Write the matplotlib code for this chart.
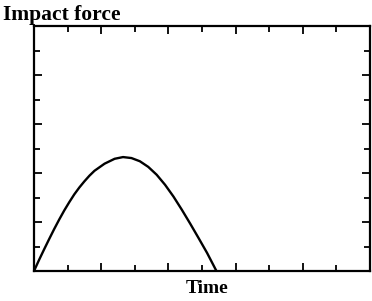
import matplotlib
matplotlib.use('Agg')
import matplotlib.pyplot as plt
from matplotlib.ticker import MultipleLocator

# impact force pulse (arbitrary units)
time = [0.0, 0.15, 0.30, 0.45, 0.60, 0.75, 0.90, 1.05, 1.20, 1.35, 1.50, 1.65,
        1.80, 2.10, 2.40, 2.65, 2.90, 3.15, 3.40, 3.65, 3.90, 4.15, 4.40, 4.65,
        4.90, 5.15, 5.43]
force = [0.0, 0.45, 0.88, 1.30, 1.71, 2.10, 2.47, 2.81, 3.13, 3.41, 3.66, 3.89,
         4.09, 4.38, 4.58, 4.65, 4.61, 4.48, 4.25, 3.93, 3.52, 3.04, 2.50, 1.93,
         1.34, 0.74, 0.0]

x_label = 'Time'
y_label = 'Impact force'

W, H = 372, 301
fig = plt.figure(figsize=(W / 100, H / 100), dpi=100)
ax = fig.add_axes([34 / W, 30 / H, 336 / W, 245 / H])

ax.plot(time, force, color='black', lw=1.7, solid_joinstyle='round',
        solid_capstyle='round')
ax.set_xlim(0, 10)
ax.set_ylim(0, 10)

for s in ax.spines.values():
    s.set_linewidth(1.6)

ax.xaxis.set_major_locator(MultipleLocator(2))
ax.xaxis.set_minor_locator(MultipleLocator(1))
ax.yaxis.set_major_locator(MultipleLocator(2))
ax.yaxis.set_minor_locator(MultipleLocator(1))
ax.tick_params(which='both', direction='in', top=True, right=True,
               labelbottom=False, labelleft=False, width=1.3)
ax.tick_params(which='major', length=6)
ax.tick_params(which='minor', length=4)

fig.text(3 / W, 1 - 20 / H, y_label, ha='left', va='baseline',
         family='Liberation Serif', weight='bold', size=15.5)
fig.text(207 / W, 1 - 293 / H, x_label, ha='center', va='baseline',
         family='Liberation Serif', weight='bold', size=14)

fig.savefig('out.png', dpi=100)
